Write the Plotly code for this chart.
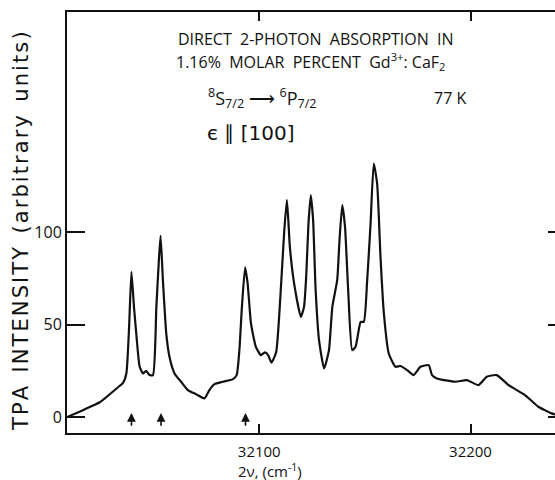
import plotly.graph_objects as go

wavenumber = [32009, 32017, 32024.5, 32033, 32035.5, 32037.1, 32038.4, 32039.5, 32040.7, 32041.8,
              32043.4, 32045, 32046.5, 32048.1, 32049.7, 32051.3, 32052.5, 32053.3, 32054.4, 32056,
              32057.5, 32059.9, 32063, 32066.2, 32070.1, 32074.1, 32076.4, 32078.8, 32082.7, 32087.4,
              32089.3, 32090.6, 32091.8, 32093.3, 32094.5, 32096.1, 32098.4, 32100.8, 32102.7, 32104.2,
              32105.8, 32108, 32110, 32111.8, 32113.1, 32114.5, 32116.5, 32119.7, 32121.2, 32122.3,
              32123.3, 32124.4, 32125.5, 32126.7, 32128.3, 32130.7, 32133, 32134.6, 32136.9, 32138,
              32139.3, 32140.6, 32142.1, 32144, 32145.6, 32148, 32149.5, 32151.1, 32152.7, 32154.2,
              32155.8, 32157.4, 32159, 32161.3, 32164.5, 32166.8, 32170, 32173.1, 32176.3, 32180.2,
              32181.8, 32184.1, 32192.8, 32198.3, 32203.8, 32207.7, 32212.4, 32218, 32225.8, 32232.1,
              32238.4, 32240]
intensity = [0, 4, 8, 16, 18.5, 23.6, 48.8, 78.5, 59.6, 45,
             27.2, 23.6, 25, 22.7, 22.7, 59.6, 85, 98, 74, 45,
             32.6, 23.6, 19.1, 14.6, 12.4, 10.1, 14.6, 17.8, 19.1, 20.4,
             22.7, 36.2, 59.6, 81, 72.3, 50.6, 38, 33.5, 35, 33.5,
             29.5, 35, 65, 100, 117.5, 92, 72.3, 54.2, 59.6, 77.7,
             104.6, 120, 106.5, 68.6, 41.6, 26.3, 36.2, 59.6, 74, 95.7,
             114.6, 102.9, 68.6, 36.2, 38, 51.5, 51.5, 74, 104.6, 137,
             126.3, 86.6, 56, 34.4, 27.2, 27.6, 25.4, 22.7, 27.2, 28.1,
             22.7, 20.9, 19.1, 20, 17.3, 21.8, 22.7, 17.3, 11.9, 5.6,
             2, 1.5]

arrow_positions = [32039.5, 32053.5, 32093.5]
x_ticks = [32100, 32200]
x_tick_labels = ["32100", "32200"]
y_ticks = [0, 50, 100]
y_tick_labels = ["0", "50", "100"]

FONT = "Open Sans"
INK = "#111111"

fig = go.Figure()
fig.add_trace(go.Scatter(x=wavenumber, y=intensity, mode="lines",
                         line=dict(color=INK, width=2.2, shape="spline", smoothing=0.5),
                         showlegend=False, hoverinfo="skip"))
# invisible trace to activate the right-hand tick axis
fig.add_trace(go.Scatter(x=[wavenumber[0]], y=[intensity[0]], yaxis="y2", mode="markers",
                         marker=dict(opacity=0), showlegend=False, hoverinfo="skip"))

annotations = []
for xa in arrow_positions:
    annotations.append(dict(x=xa, y=2.2, ax=xa, ay=-5.5, xref="x", yref="y", axref="x", ayref="y",
                            showarrow=True, arrowhead=2, arrowsize=1.1, arrowwidth=1.6,
                            arrowcolor=INK, text=""))

def txt(s, x, y, size, family=FONT, **kw):
    d = dict(text=s, x=x, y=y, xref="paper", yref="paper", showarrow=False,
             font=dict(family=family, size=size, color=INK), xanchor="center", yanchor="middle")
    d.update(kw)
    return d

ytitle = "TPA INTENSITY (arbitrary units)"
ytitle_spaced = "\u200a".join(ytitle).replace("\u200a \u200a", "  ")

annotations += [
    txt("DIRECT  2-PHOTON  ABSORPTION  IN", 0.510, 0.935, 16),
    txt("1.16%  MOLAR  PERCENT  Gd<sup>3+</sup>: CaF<sub>2</sub>", 0.498, 0.882, 16),
    txt("<sup>8</sup>S<sub>7/2</sub> ⟶ <sup>6</sup>P<sub>7/2</sub>", 0.400, 0.796, 18),
    txt("77 K", 0.785, 0.796, 16),
    txt("є ∥ [100]", 0.375, 0.713, 20, family="DejaVu Sans"),
    txt("2ν, (cm<sup>-1</sup>)", (270 - 67) / 488, -0.088, 15),
    txt(ytitle_spaced, -0.094, 0.478, 21, family="DejaVu Sans", textangle=-90),
]

fig.update_layout(
    width=555, height=480,
    margin=dict(l=67, r=0, t=12, b=47),
    paper_bgcolor="white", plot_bgcolor="white",
    font=dict(family=FONT, color=INK),
    annotations=annotations,
    xaxis=dict(range=[32009, 32240], tickvals=x_ticks, ticktext=x_tick_labels,
               ticks="inside", ticklen=9, tickwidth=1.8, tickcolor=INK,
               showline=True, linecolor=INK, linewidth=2, mirror="ticks",
               showgrid=False, zeroline=False, tickfont=dict(size=15, family=FONT),
               ticklabelstandoff=4, automargin=False),
    yaxis=dict(range=[-8.6, 219], tickvals=y_ticks, ticktext=y_tick_labels,
               ticks="inside", ticklen=18, tickwidth=1.8, tickcolor=INK,
               showline=True, linecolor=INK, linewidth=2,
               showgrid=False, zeroline=False, tickfont=dict(size=16, family=FONT),
               automargin=False),
    yaxis2=dict(range=[-8.6, 219], tickvals=y_ticks, overlaying="y", side="right",
                ticks="inside", ticklen=7, tickwidth=2, tickcolor=INK,
                showticklabels=False, showline=False, showgrid=False, zeroline=False,
                automargin=False),
)

fig.write_html("out.html", config={"displayModeBar": False},
               post_script="document.body.style.margin='0px';")
